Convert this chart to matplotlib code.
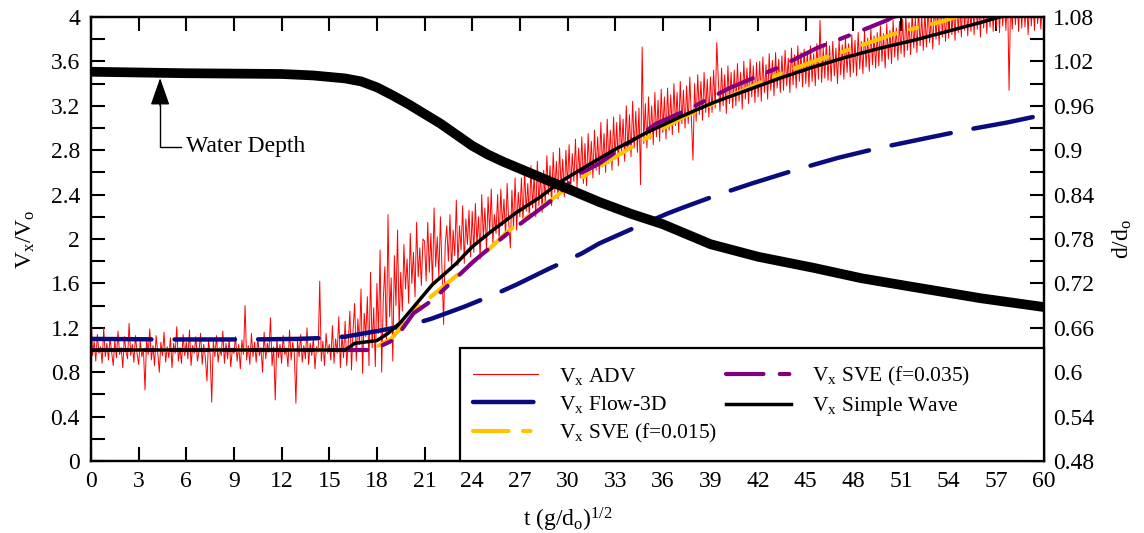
import numpy as np
import matplotlib
matplotlib.use("Agg")
import matplotlib.pyplot as plt
from matplotlib.lines import Line2D
from matplotlib.patches import Rectangle

plt.rcParams['font.family'] = ['Liberation Serif', 'DejaVu Serif']
plt.rcParams['mathtext.fontset'] = 'custom'
plt.rcParams['mathtext.rm'] = 'Liberation Serif'
plt.rcParams['mathtext.it'] = 'Liberation Serif:italic'
plt.rcParams['font.size'] = 17

# ---------------- data ----------------
# ADV measured velocity, sampled every 0.1 time units from t = 0 to 60
adv_t = np.linspace(0, 60, 601)
adv_v = [
    1.36, 0.95, 1.08, 0.90, 1.14, 0.97, 1.03, 0.88, 1.20, 0.94, 1.06, 0.91, 1.11, 0.98, 0.86,
    1.09, 0.93, 1.17, 0.96, 1.02, 0.84, 1.12, 0.99, 0.92, 1.24, 0.95, 1.05, 0.89, 1.13, 0.97,
    0.87, 1.08, 0.94, 1.01, 0.64, 1.10, 0.96, 1.19, 0.91, 1.04, 0.86, 1.13, 0.98, 0.80, 1.07,
    0.95, 1.16, 0.89, 1.03, 0.93, 1.11, 0.84, 1.06, 0.97, 1.21, 0.90, 1.02, 0.88, 1.14, 0.95,
    1.07, 0.92, 1.18, 0.86, 1.04, 0.97, 1.12, 0.90, 0.99, 1.15, 0.87, 1.05, 0.93, 0.72, 1.09,
    0.96, 0.53, 1.08, 0.94, 1.13, 0.89, 1.02, 0.95, 1.17, 0.88, 1.06, 0.92, 1.10, 0.85, 1.01,
    0.97, 1.12, 0.90, 1.05, 0.83, 1.09, 0.96, 1.40, 0.91, 1.04, 0.87, 1.15, 0.94, 1.07, 0.89,
    1.11, 0.95, 1.02, 0.80, 1.16, 0.92, 1.06, 0.98, 1.29, 0.86, 1.03, 0.55, 1.10, 0.93, 1.05,
    0.88, 1.13, 0.96, 1.01, 0.85, 1.18, 0.91, 1.07, 0.97, 0.52, 1.09, 0.94, 1.14, 0.89, 1.04,
    0.92, 1.20, 0.87, 1.06, 0.95, 1.11, 0.83, 1.03, 0.98, 1.62, 0.90, 1.08, 0.86, 1.15, 0.97,
    1.05, 0.91, 1.22, 0.88, 1.10, 0.97, 1.30, 0.84, 1.14, 0.93, 1.26, 0.86, 1.08, 1.35, 0.82,
    1.18, 1.42, 0.90, 1.28, 1.05, 1.55, 0.79, 1.33, 1.12, 1.48, 0.86, 1.70, 1.02, 1.38, 0.85,
    1.60, 1.15, 1.90, 0.80, 1.45, 1.75, 1.05, 2.22, 1.30, 1.65, 0.90, 1.85, 1.40, 2.08, 1.20,
    1.70, 1.35, 1.95, 1.55, 1.82, 1.42, 2.05, 1.60, 1.88, 1.48, 2.15, 1.66, 1.92, 1.58, 2.00,
    1.98, 1.62, 2.15, 1.70, 2.05, 1.58, 2.28, 1.75, 2.02, 1.66, 2.20, 1.72, 1.23, 1.95, 2.12,
    1.80, 2.22, 1.72, 2.08, 1.85, 2.35, 1.76, 2.12, 1.90, 2.30, 1.78, 2.18, 1.95, 2.26, 1.84,
    2.25, 1.88, 2.32, 1.95, 2.20, 1.82, 2.40, 2.00, 2.28, 1.90, 2.38, 2.05, 2.45, 1.96, 2.22,
    2.05, 2.40, 1.98, 2.45, 2.12, 2.36, 2.02, 2.50, 2.15, 1.92, 2.44, 2.10, 2.55, 2.08, 2.42,
    2.20, 2.55, 2.15, 2.62, 2.25, 2.50, 2.18, 2.66, 2.28, 2.58, 2.20, 2.70, 2.30, 2.60, 2.24,
    2.62, 2.32, 2.75, 2.40, 2.66, 2.30, 2.78, 2.42, 2.70, 2.36, 2.82, 2.45, 2.72, 2.38, 2.80,
    2.48, 2.85, 2.44, 2.77, 2.52, 2.90, 2.46, 2.82, 2.55, 2.92, 2.50, 2.86, 2.48, 2.95, 2.58,
    2.88, 2.55, 2.98, 2.62, 2.92, 2.58, 3.05, 2.65, 2.95, 2.60, 3.08, 2.68, 2.98, 2.62, 3.10,
    2.72, 3.05, 2.66, 3.12, 2.78, 3.08, 2.70, 3.20, 2.80, 3.12, 2.74, 3.24, 2.82, 3.15, 2.78,
    3.18, 2.49, 3.73, 2.86, 3.22, 2.82, 3.28, 2.90, 3.20, 2.85, 3.32, 2.92, 3.25, 2.88, 3.35,
    2.96, 3.28, 2.90, 3.36, 2.98, 3.30, 2.94, 3.40, 3.02, 3.32, 2.96, 3.42, 3.04, 3.34, 3.00,
    3.38, 3.04, 3.46, 3.08, 2.71, 3.40, 3.06, 3.48, 3.12, 3.42, 3.07, 3.50, 3.14, 3.44, 3.10,
    3.46, 3.14, 3.52, 3.18, 3.77, 3.42, 3.15, 3.54, 3.20, 3.48, 3.13, 3.56, 3.22, 3.50, 3.18,
    3.52, 3.20, 3.58, 3.24, 3.50, 3.17, 3.60, 3.26, 3.54, 3.22, 3.62, 3.28, 3.56, 3.23, 3.59,
    3.28, 3.60, 3.24, 3.64, 3.32, 3.57, 3.26, 3.67, 3.34, 3.61, 3.29, 3.68, 3.36, 3.62, 3.32,
    3.65, 3.34, 3.70, 3.38, 3.63, 3.32, 3.72, 3.39, 3.66, 3.36, 3.74, 3.42, 3.68, 3.37, 3.71,
    3.40, 3.69, 3.37, 3.74, 3.42, 3.67, 3.38, 3.76, 3.44, 3.97, 3.41, 3.72, 3.45, 3.78, 3.43,
    3.74, 3.42, 3.78, 3.47, 3.72, 3.40, 3.80, 3.48, 3.75, 3.44, 3.82, 3.50, 3.76, 3.46, 3.84,
    3.50, 3.79, 3.47, 3.86, 3.53, 3.78, 3.49, 3.88, 3.55, 3.81, 3.51, 3.90, 3.57, 3.83, 3.54,
    3.86, 3.56, 3.92, 3.60, 3.85, 3.54, 3.94, 3.62, 3.88, 3.58, 3.97, 3.64, 3.90, 3.61, 3.96,
    3.67, 3.98, 3.64, 4.02, 3.70, 3.95, 3.66, 4.04, 3.72, 3.99, 3.68, 4.07, 3.74, 4.01, 3.70,
    4.05, 3.73, 4.10, 3.77, 4.03, 3.71, 4.14, 3.80, 4.06, 3.75, 4.16, 3.82, 4.08, 3.78, 4.12,
    3.81, 4.17, 3.84, 4.10, 3.79, 4.20, 3.86, 4.13, 3.82, 4.22, 3.88, 4.15, 3.83, 4.19, 3.87,
    4.16, 3.84, 4.21, 3.89, 4.14, 3.82, 4.23, 3.90, 4.17, 3.85, 4.24, 3.91, 4.18, 3.87, 4.22,
    3.90, 4.20, 3.86, 4.24, 3.92, 4.18, 3.88, 4.26, 3.34, 4.15, 3.89, 4.22, 3.93, 4.19, 3.87,
    4.21, 3.90, 4.25, 3.91, 4.17, 3.84, 4.23, 3.92, 4.18, 3.88, 4.24, 3.94, 4.20, 3.89, 4.16,
    4.06,
]

flow_t = [0, 5, 10, 13, 15, 16, 18, 20.2, 21.4, 23.5, 25.4, 26.8, 28.8, 30.9, 32.0,
          34.2, 36.3, 37.4, 39.5, 41.6, 44.3, 47.0, 49.6, 52.3, 55.0, 57.7, 60]
flow_v = [1.10, 1.095, 1.095, 1.10, 1.11, 1.12, 1.17, 1.23, 1.28, 1.39, 1.50, 1.59, 1.73, 1.87, 1.96,
          2.10, 2.23, 2.29, 2.40, 2.50, 2.62, 2.73, 2.82, 2.90, 2.98, 3.05, 3.12]

sve15_t = [0, 17.5, 18.0, 18.9, 19.5, 20.6, 21.4, 24.2, 25.0, 26.1, 26.8, 30.4, 31.4,
           35.8, 37.3, 43.4, 45.5, 48.2, 50.8, 53.6, 54.4, 60]
sve15_v = [1.0, 1.0, 1.03, 1.10, 1.20, 1.39, 1.48, 1.81, 1.90, 2.05, 2.13, 2.50, 2.60,
           2.98, 3.10, 3.49, 3.60, 3.73, 3.86, 3.96, 4.0, 4.2]

sve35_t = [0, 17.5, 18.0, 18.9, 19.5, 20.3, 21.5, 24.1, 25.1, 26.5, 29.3, 30.6, 31.2,
           32.0, 35.6, 37.5, 40.2, 43.2, 45.7, 48.2, 50.1, 50.5, 60]
sve35_v = [1.0, 1.0, 1.02, 1.08, 1.17, 1.33, 1.45, 1.80, 1.92, 2.08, 2.38, 2.58, 2.62,
           2.68, 3.04, 3.16, 3.36, 3.54, 3.72, 3.86, 3.97, 4.0, 4.4]

sw_t = [0, 16.0, 16.6, 18.0, 18.7, 19.5, 20.5, 21.5, 23.0, 24.0, 25.3, 26.8, 28.3, 29.5,
        31.0, 32.9, 35.0, 37.1, 39.2, 41.3, 43.4, 45.5, 47.6, 49.7, 51.8, 53.9, 56.0, 57.2, 60]
sw_v = [1.0, 1.0, 1.06, 1.085, 1.15, 1.25, 1.42, 1.59, 1.78, 1.93, 2.08, 2.24, 2.38, 2.51,
        2.64, 2.80, 2.96, 3.10, 3.23, 3.34, 3.45, 3.55, 3.64, 3.72, 3.79, 3.87, 3.95, 4.0, 4.08]

depth_t = [0, 6, 12, 14, 15, 16, 17, 18, 19, 20, 21, 22, 23, 24, 25, 26, 27, 28, 29, 30,
           32, 34, 36, 39, 42, 45.5, 48.5, 51.8, 56, 60]
depth_d = [1.006, 1.004, 1.003, 1.001, 0.999, 0.997, 0.993, 0.985, 0.974, 0.962, 0.949,
           0.936, 0.921, 0.906, 0.894, 0.884, 0.875, 0.866, 0.857, 0.848,
           0.830, 0.814, 0.800, 0.773, 0.756, 0.741, 0.727, 0.715, 0.700, 0.688]

x_ticks = list(range(0, 61, 3))
y_ticks = [0, 0.4, 0.8, 1.2, 1.6, 2, 2.4, 2.8, 3.2, 3.6, 4]
y_ticklabels = ['0', '0.4', '0.8', '1.2', '1.6', '2', '2.4', '2.8', '3.2', '3.6', '4']
y2_ticks = [0.48, 0.54, 0.6, 0.66, 0.72, 0.78, 0.84, 0.9, 0.96, 1.02, 1.08]
y2_ticklabels = ['0.48', '0.54', '0.6', '0.66', '0.72', '0.78', '0.84', '0.9', '0.96', '1.02', '1.08']

labels = [r'V$_\mathrm{x}$ ADV', r'V$_\mathrm{x}$ Flow-3D', r'V$_\mathrm{x}$ SVE (f=0.015)',
          r'V$_\mathrm{x}$ SVE (f=0.035)', r'V$_\mathrm{x}$ Simple Wave']

# ---------------- styles ----------------
c_red = '#ff0000'
c_navy = '#0b0b80'
c_gold = '#ffc400'
c_purp = '#800080'
flow_dash = (0, (13.6, 5.2))
gold_dash = (0, (8.5, 3.5, 1.8, 3.5))
purp_dash = (0, (9.0, 3.9, 2.3, 3.9))
FS = 17

fig = plt.figure(figsize=(11.44, 5.33), dpi=100)
ax = fig.add_axes([91/1144, 1-461/533, (1044-91)/1144, (461-17)/533])

ax.plot(adv_t, adv_v, color=c_red, lw=0.7, zorder=2)
ax.plot(flow_t, flow_v, color=c_navy, lw=3.2, ls=flow_dash, dash_capstyle='round', zorder=3)
ax.plot(sve15_t, sve15_v, color=c_gold, lw=3.0, ls=gold_dash, dash_capstyle='round', zorder=4)
ax.plot(sve35_t, sve35_v, color=c_purp, lw=3.0, ls=purp_dash, dash_capstyle='round', zorder=5)
ax.plot(sw_t, sw_v, color='black', lw=2.5, zorder=6)

ax.set_xlim(0, 60)
ax.set_ylim(0, 4)
ax.set_xticks(x_ticks)
ax.set_xticklabels([str(v) for v in x_ticks])
ax.set_yticks(y_ticks)
ax.set_yticklabels(y_ticklabels)
ax.set_yticks(np.arange(0.2, 4, 0.4), minor=True)
ax.tick_params(axis='both', which='both', direction='in', length=10, width=1.5,
               top=True, labelsize=FS)
ax.tick_params(axis='x', pad=7)
ax.tick_params(axis='y', which='both', right=False, pad=8)
for s in ax.spines.values():
    s.set_linewidth(1.6)
ax.set_xlabel(r't (g/d$_\mathrm{o}$)$^{1/2}$', fontsize=FS, labelpad=10)
ax.set_ylabel(r'V$_\mathrm{x}$/V$_\mathrm{o}$', fontsize=FS, labelpad=10)

ax2 = ax.twinx()
ax2.plot(depth_t, depth_d, color='black', lw=7, solid_capstyle='round', zorder=3)
ax2.set_ylim(0.48, 1.08)
ax2.set_yticks(y2_ticks)
ax2.set_yticklabels(y2_ticklabels)
ax2.set_yticks(np.arange(0.51, 1.08, 0.06), minor=True)
ax2.tick_params(axis='y', which='both', direction='in', length=10, width=1.5, labelsize=FS, pad=6.5)
ax2.set_ylabel(r'd/d$_\mathrm{o}$', fontsize=FS, labelpad=12)
for s in ax2.spines.values():
    s.set_linewidth(1.6)

# annotation "Water Depth"
ax.plot([5.65, 4.35, 4.35], [2.83, 2.83, 3.25], color='black', lw=1.0, zorder=7)
ax.annotate('', xy=(4.35, 3.45), xytext=(4.35, 3.2),
            arrowprops=dict(arrowstyle='-|>,head_length=1.0,head_width=0.35',
                            color='black', lw=1.0, shrinkA=0, shrinkB=0), zorder=7)
ax.text(5.95, 2.83, 'Water Depth', fontsize=FS, va='center', ha='left', zorder=7)

# legend box
ax2.add_patch(Rectangle(((460-91)/953, 0), (1044-460)/953, (461-348)/444,
                        transform=ax2.transAxes, facecolor='white', edgecolor='black',
                        lw=1.6, zorder=10, clip_on=False))
handles = [
    Line2D([], [], color=c_red, lw=0.8),
    Line2D([], [], color=c_navy, lw=3.2, ls=flow_dash, dash_capstyle='round'),
    Line2D([], [], color=c_gold, lw=3.0, ls=gold_dash, dash_capstyle='round'),
    Line2D([], [], color=c_purp, lw=3.0, ls=purp_dash, dash_capstyle='round'),
    Line2D([], [], color='black', lw=2.5),
]
leg = ax2.legend(handles, labels, ncol=2, loc='upper left',
                 bbox_to_anchor=((469-91)/953, (461-361)/444), frameon=False,
                 fontsize=15.5, handlelength=3.0, handletextpad=1.0, columnspacing=0.4,
                 labelspacing=0.32, borderpad=0.2, borderaxespad=0)
leg.set_zorder(11)

fig.savefig('out.png', dpi=100)
